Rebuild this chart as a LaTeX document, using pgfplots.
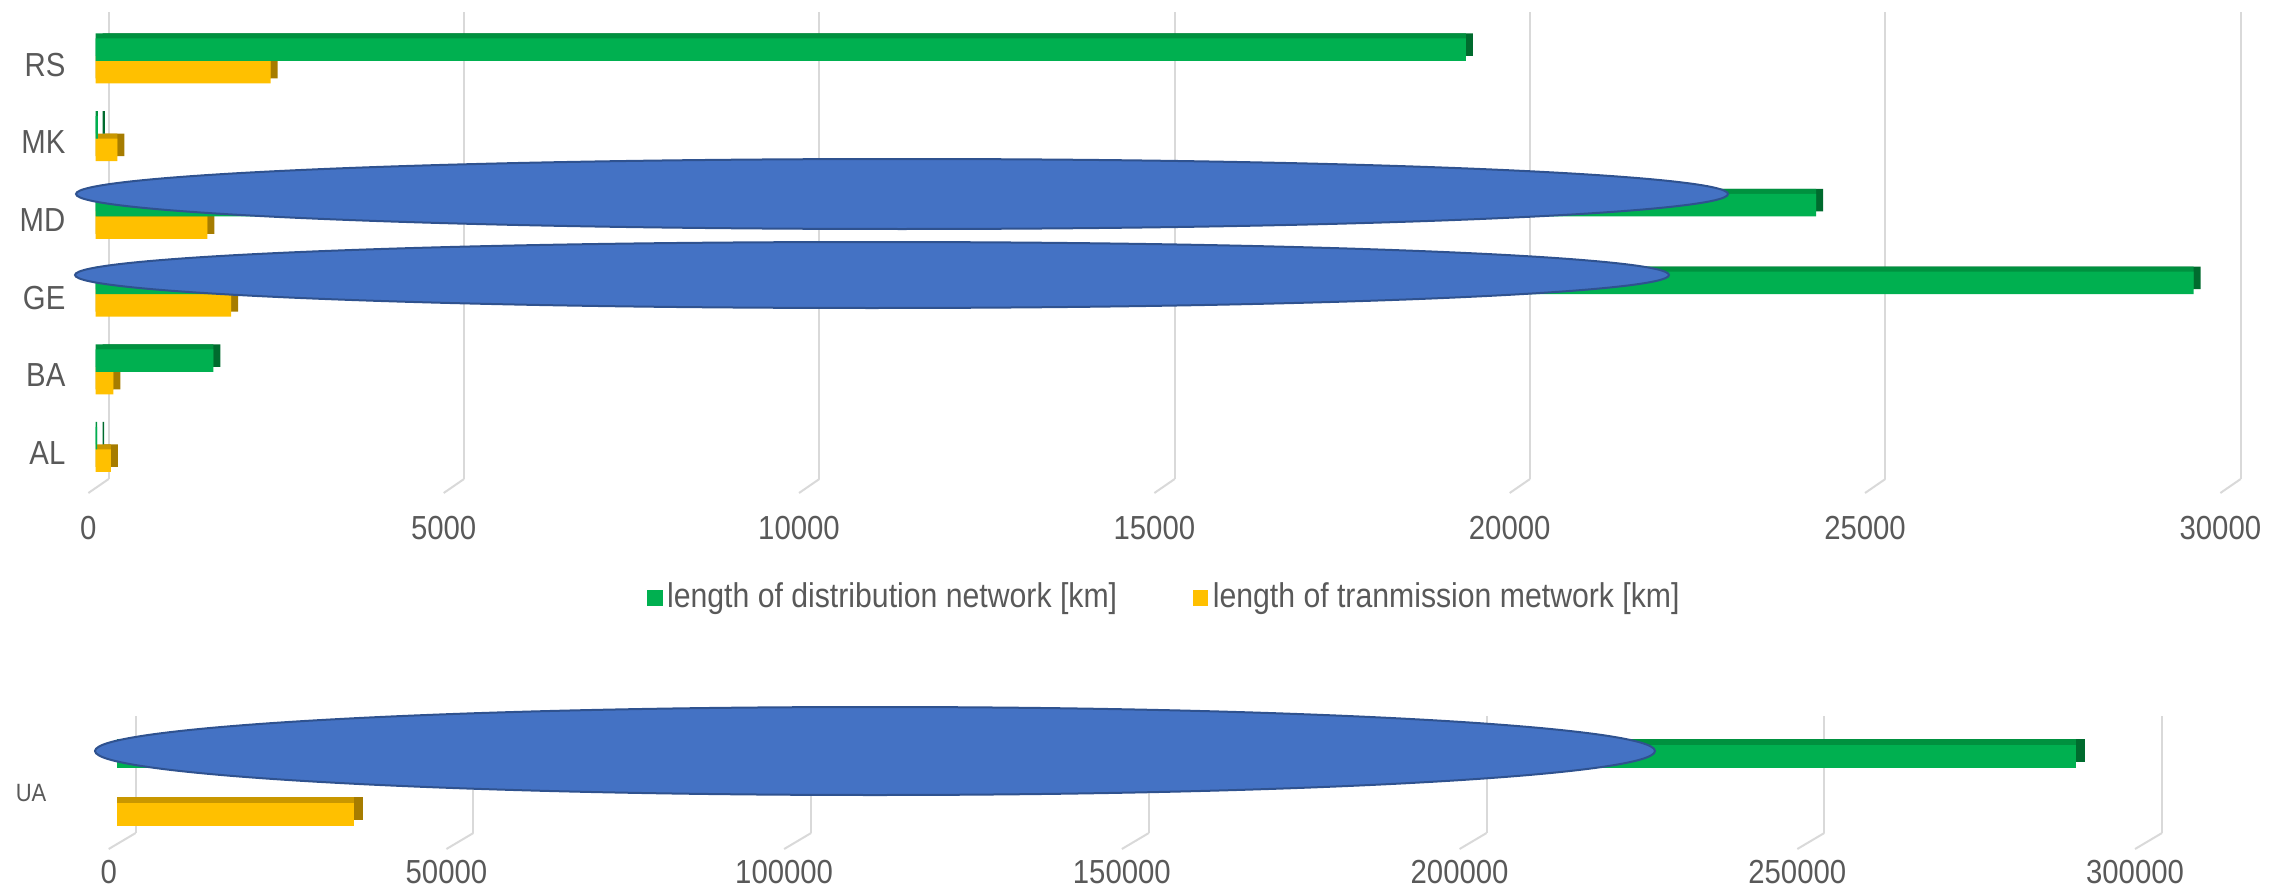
\documentclass[border=0pt]{standalone}
\usepackage{fontspec}
\setmainfont{Liberation Sans}[FakeStretch=0.88]
\usepackage{pgfplots}
\pgfplotsset{compat=1.18}

\definecolor{distgreen}{HTML}{00B050}
\definecolor{disttop}{HTML}{00913F}
\definecolor{distside}{HTML}{006B2E}
\definecolor{trangold}{HTML}{FFC000}
\definecolor{trantop}{HTML}{C99700}
\definecolor{transide}{HTML}{A67C00}
\definecolor{gridgray}{HTML}{D9D9D9}
\definecolor{labelgray}{HTML}{595959}
\definecolor{shapeblue}{HTML}{4472C4}
\definecolor{shapeedge}{HTML}{2F528F}

\pgfplotsset{
  netbase/.style={
    scale only axis, enlargelimits=false, clip=false,
    axis line style={draw=none}, major tick length=0pt,
    xmajorgrids, ymajorgrids=false,
    major grid style={gridgray, line width=0.6pt},
    tick label style={text=labelgray, inner sep=0pt},
    scaled x ticks=false,
    xbar,
  },
  barface/.style={draw=none, fill=#1, forget plot},
}

\begin{document}
\begin{tikzpicture}
\useasboundingbox (0,0) rectangle (680.7pt,265.8pt);

% ---------- Balkan and Caucasus networks ----------
\begin{axis}[netbase,
  at={(32.61pt,122.1pt)}, anchor=south west,
  width=639.6pt, height=140.1pt,
  xmin=0, xmax=30000, ymin=-0.38, ymax=5.63,
  xtick={0,5000,10000,15000,20000,25000,30000},
  xticklabels={0,5000,10000,15000,20000,25000,30000},
  ytick={0,1,2,3,4,5},
  yticklabels={AL,BA,GE,MD,MK,RS},
  xticklabel style={font=\fontsize{10}{11}\selectfont, anchor=center, xshift=-6.1pt, yshift=-14.7pt},
  yticklabel style={font=\fontsize{10}{11}\selectfont, anchor=east, xshift=-12.8pt, yshift=-1.1pt},
  bar width=6.75pt,
  legend columns=2,
  legend cell align=left,
  legend style={at={(axis description cs:0.2523,-0.2548)}, anchor=west,
    draw=none, fill=none, inner sep=0pt,
    font=\fontsize{10.3}{11}\selectfont, text=labelgray,
    nodes={inner sep=1.35pt},
    /tikz/every even column/.append style={column sep=21.4pt}},
]
% transmission network (lower bar of each pair)
\addplot[barface=transide, bar shift=-1.875pt, xshift=-1.8pt] coordinates
  {(215,0) (248,1) (1904,2) (1570,3) (304,4) (2463,5)};
\addplot[barface=trantop, bar shift=-1.875pt, xshift=-3.9pt] coordinates
  {(215,0) (248,1) (1904,2) (1570,3) (304,4) (2463,5)};
\addplot[barface=trangold, bar shift=-3.375pt, xshift=-3.9pt] coordinates
  {(215,0) (248,1) (1904,2) (1570,3) (304,4) (2463,5)};
% distribution network (upper bar of each pair)
\addplot[barface=distside, bar shift=4.875pt, xshift=-1.8pt] coordinates
  {(20,0) (1655,1) (29520,2) (24210,3) (30,4) (19280,5)};
\addplot[barface=disttop, bar shift=4.875pt, xshift=-3.9pt] coordinates
  {(20,0) (1655,1) (29520,2) (24210,3) (30,4) (19280,5)};
\addplot[barface=distgreen, bar shift=3.375pt, xshift=-3.9pt] coordinates
  {(20,0) (1655,1) (29520,2) (24210,3) (30,4) (19280,5)};
% slanted feet of the grid lines
\pgfplotsinvokeforeach{0,5000,10000,15000,20000,25000,30000}{
  \draw[gridgray, line width=0.6pt] (axis cs:#1,-0.38) -- ++(-6.1pt,-4.2pt);
}
\addlegendimage{legend image code/.code={\fill[distgreen] (0pt,-2.1pt) rectangle (4.2pt,2.1pt);}}
\addlegendentry{length of distribution network [km]}
\addlegendimage{legend image code/.code={\fill[trangold] (0pt,-2.1pt) rectangle (4.2pt,2.1pt);}}
\addlegendentry{length of tranmission metwork [km]}
\end{axis}

% ---------- Ukraine ----------
\begin{axis}[netbase,
  at={(40.71pt,15.9pt)}, anchor=south west,
  width=607.9pt, height=35.1pt,
  xmin=0, xmax=300000, ymin=-1, ymax=1,
  xtick={0,50000,100000,150000,200000,250000,300000},
  xticklabels={0,50000,100000,150000,200000,250000,300000},
  ytick={0}, yticklabels={UA},
  xticklabel style={font=\fontsize{10}{11}\selectfont, anchor=center, xshift=-8.1pt, yshift=-11.6pt},
  yticklabel style={font=\fontsize{7.5}{8}\selectfont, anchor=east, xshift=-26.6pt, yshift=-5.55pt},
  bar width=6.9pt,
]
\addplot[barface=transide, bar shift=-10.2pt, xshift=-2.82pt] coordinates {(35050,0)};
\addplot[barface=trantop, bar shift=-10.2pt, xshift=-5.52pt] coordinates {(35050,0)};
\addplot[barface=trangold, bar shift=-12pt, xshift=-5.52pt] coordinates {(35050,0)};
\addplot[barface=distside, bar shift=7.2pt, xshift=-2.82pt] coordinates {(290000,0)};
\addplot[barface=disttop, bar shift=7.2pt, xshift=-5.52pt] coordinates {(290000,0)};
\addplot[barface=distgreen, bar shift=5.4pt, xshift=-5.52pt] coordinates {(290000,0)};
\pgfplotsinvokeforeach{0,50000,100000,150000,200000,250000,300000}{
  \draw[gridgray, line width=0.6pt] (axis cs:#1,-1) -- ++(-8.1pt,-4.8pt);
}
\end{axis}

% ---------- highlight shapes ----------
\draw[shapeedge, fill=shapeblue, line width=0.6pt] (270.6pt,207.6pt) ellipse [x radius=247.8pt, y radius=10.5pt];
\draw[shapeedge, fill=shapeblue, line width=0.6pt] (261.6pt,183.3pt) ellipse [x radius=239.1pt, y radius=9.9pt];
\draw[shapeedge, fill=shapeblue, line width=0.6pt] (262.5pt,40.5pt) ellipse [x radius=234pt, y radius=13.2pt];
\end{tikzpicture}
\end{document}
